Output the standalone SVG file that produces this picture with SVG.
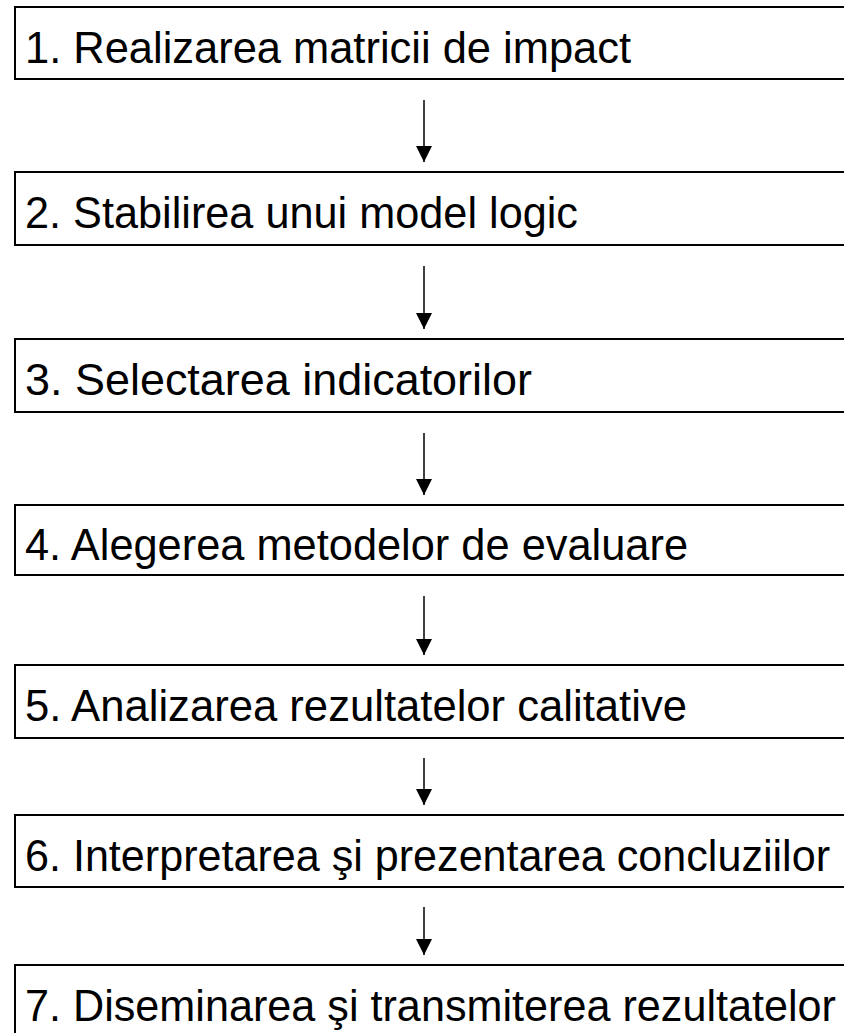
<svg xmlns="http://www.w3.org/2000/svg" width="844" height="1033" viewBox="0 0 844 1033">
<defs>
<style>
.box{fill:#fff;stroke:#000;stroke-width:2}
.lbl{font-family:"Liberation Sans",Arial,sans-serif;font-size:45px;fill:#000}
.con{stroke:#000;stroke-width:1.5;fill:none}
</style>
<marker id="ah" markerWidth="16" markerHeight="16" viewBox="0 0 16 16" refX="16" refY="8" orient="auto" markerUnits="userSpaceOnUse">
<path d="M0,0 L16,8 L0,16 Z" fill="#000"/>
</marker>
</defs>
<rect width="844" height="1033" fill="#fff"/>
<g id="n1"><rect class="box" x="15" y="7" width="850" height="72"/><text class="lbl" x="25" y="63" textLength="606" lengthAdjust="spacingAndGlyphs">1. Realizarea matricii de impact</text></g>
<g id="n2"><rect class="box" x="15" y="172" width="850" height="73"/><text class="lbl" x="25" y="228" textLength="553" lengthAdjust="spacingAndGlyphs">2. Stabilirea unui model logic</text></g>
<g id="n3"><rect class="box" x="15" y="339" width="850" height="73"/><text class="lbl" x="25" y="395" textLength="507" lengthAdjust="spacingAndGlyphs">3. Selectarea indicatorilor</text></g>
<g id="n4"><rect class="box" x="15" y="505" width="850" height="70"/><text class="lbl" x="25" y="560" textLength="663" lengthAdjust="spacingAndGlyphs">4. Alegerea metodelor de evaluare</text></g>
<g id="n5"><rect class="box" x="15" y="665" width="850" height="73"/><text class="lbl" x="25" y="721" textLength="662" lengthAdjust="spacingAndGlyphs">5. Analizarea rezultatelor calitative</text></g>
<g id="n6"><rect class="box" x="15" y="815" width="850" height="72"/><text class="lbl" x="25" y="871" textLength="805" lengthAdjust="spacingAndGlyphs">6. Interpretarea şi prezentarea concluziilor</text></g>
<g id="n7"><rect class="box" x="15" y="965" width="850" height="90"/><text class="lbl" x="25" y="1021" textLength="811" lengthAdjust="spacingAndGlyphs">7. Diseminarea şi transmiterea rezultatelor</text></g>
<g id="connectors">
<line class="con" x1="424" y1="100" x2="424" y2="162" marker-end="url(#ah)"/>
<line class="con" x1="424" y1="266" x2="424" y2="329" marker-end="url(#ah)"/>
<line class="con" x1="424" y1="433" x2="424" y2="495" marker-end="url(#ah)"/>
<line class="con" x1="424" y1="596" x2="424" y2="655" marker-end="url(#ah)"/>
<line class="con" x1="424" y1="758" x2="424" y2="805" marker-end="url(#ah)"/>
<line class="con" x1="424" y1="907" x2="424" y2="955" marker-end="url(#ah)"/>
</g>
</svg>
